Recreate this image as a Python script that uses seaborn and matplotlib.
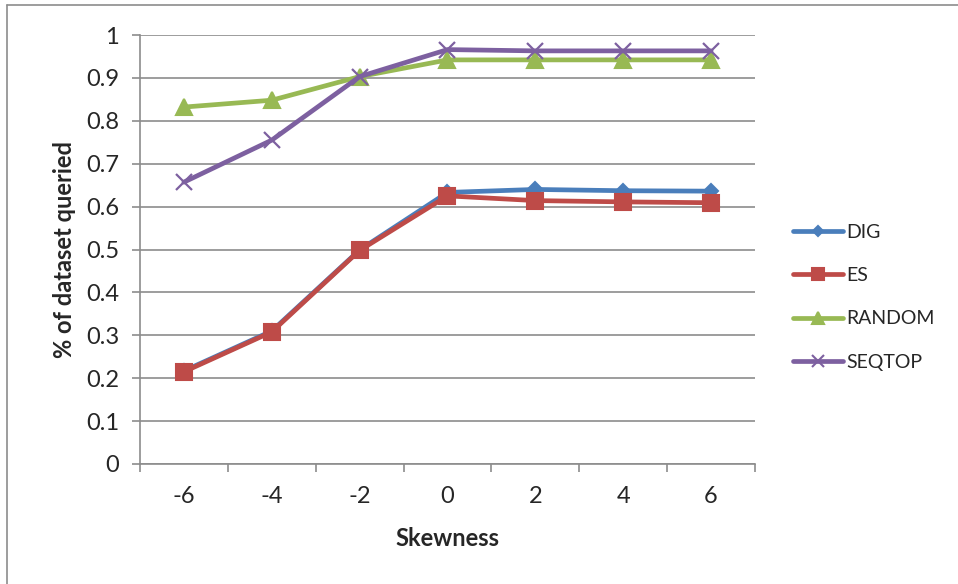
import matplotlib
matplotlib.use("Agg")
import matplotlib.pyplot as plt
from matplotlib.lines import Line2D
from matplotlib.ticker import FixedLocator
import seaborn as sns
import pandas as pd

# Skewness settings and the share of the dataset each method queried
skewness = [-6, -4, -2, 0, 2, 4, 6]
dig = [0.217, 0.310, 0.499, 0.633, 0.640, 0.637, 0.636]
es = [0.215, 0.308, 0.498, 0.625, 0.614, 0.611, 0.609]
random_q = [0.832, 0.848, 0.903, 0.942, 0.942, 0.942, 0.942]
seqtop = [0.657, 0.755, 0.903, 0.966, 0.963, 0.963, 0.963]

methods = ["DIG", "ES", "RANDOM", "SEQTOP"]
series = [dig, es, random_q, seqtop]
colors = ["#4A7EBB", "#BE4B48", "#98B954", "#7D60A0"]
markers = ["D", "s", "^", "x"]
marker_sizes = [7, 11, 11, 11]

y_ticks = [i / 10 for i in range(11)]
y_labels = ["0"] + [f"{v:.1f}" for v in y_ticks[1:-1]] + ["1"]

df = pd.DataFrame(
    [(m, x, v) for m, vals in zip(methods, series) for x, v in zip(skewness, vals)],
    columns=["method", "skewness", "share"],
)

sns.set_style("white")
plt.rcParams["font.family"] = ["Lato", "DejaVu Sans"]

fig = plt.figure(figsize=(9.58, 5.84), dpi=100)
ax = fig.add_axes([140 / 958, 1 - 464 / 584, (755 - 140) / 958, (464 - 35) / 584])

for m, c, mk, ms in zip(methods, colors, markers, marker_sizes):
    sns.lineplot(
        data=df[df["method"] == m], x="skewness", y="share", ax=ax,
        color=c, linewidth=3.4, marker=mk, markersize=ms,
        markeredgecolor=c, markeredgewidth=1.5 if mk != "x" else 1.6,
        legend=False,
    )

ax.set_xlim(-7, 7)
ax.set_ylim(0, 1)
ax.yaxis.set_major_locator(FixedLocator(y_ticks))
ax.set_yticklabels(y_labels)
ax.xaxis.set_major_locator(FixedLocator(skewness))
ax.xaxis.set_minor_locator(FixedLocator(list(range(-7, 8, 2))))
ax.set_xticklabels([str(s) for s in skewness])

grid_c = "#8C8C8C"
ax.grid(axis="y", color=grid_c, linewidth=1.2)
ax.grid(axis="x", visible=False)
for side in ["top", "right"]:
    ax.spines[side].set_visible(False)
for side in ["left", "bottom"]:
    ax.spines[side].set_color(grid_c)
    ax.spines[side].set_linewidth(1.2)

ax.tick_params(axis="y", which="major", direction="out", length=6, color=grid_c,
               width=1.2, labelsize=17, pad=9, left=True)
ax.tick_params(axis="x", which="major", length=0, labelsize=17, pad=16)
ax.tick_params(axis="x", which="minor", direction="out", length=6, color=grid_c,
               width=1.2, bottom=True)

ax.set_xlabel("Skewness", fontsize=17, fontweight="bold", labelpad=14)
ax.set_ylabel("% of dataset queried", fontsize=17, fontweight="bold", labelpad=7)

handles = [
    Line2D([], [], color=c, linewidth=3.4, marker=mk, markersize=ms * 0.8,
           markeredgecolor=c, markeredgewidth=1.5)
    for c, mk, ms in zip(colors, markers, marker_sizes)
]
fig.legend(handles, methods, loc="upper left", bbox_to_anchor=(793 / 958, 1 - 224 / 584),
           frameon=False, fontsize=14, handlelength=2.55, handletextpad=0.2,
           labelspacing=1.35, borderaxespad=0, borderpad=0)

# Outer chart frame
fig.add_artist(Line2D([7 / 958, 7 / 958], [0, 1 - 5 / 584], transform=fig.transFigure,
                      color="#8C8C8C", linewidth=1.2))
fig.add_artist(Line2D([7 / 958, 1], [1 - 5 / 584, 1 - 5 / 584], transform=fig.transFigure,
                      color="#8C8C8C", linewidth=1.2))

fig.savefig("out.png", dpi=100)
